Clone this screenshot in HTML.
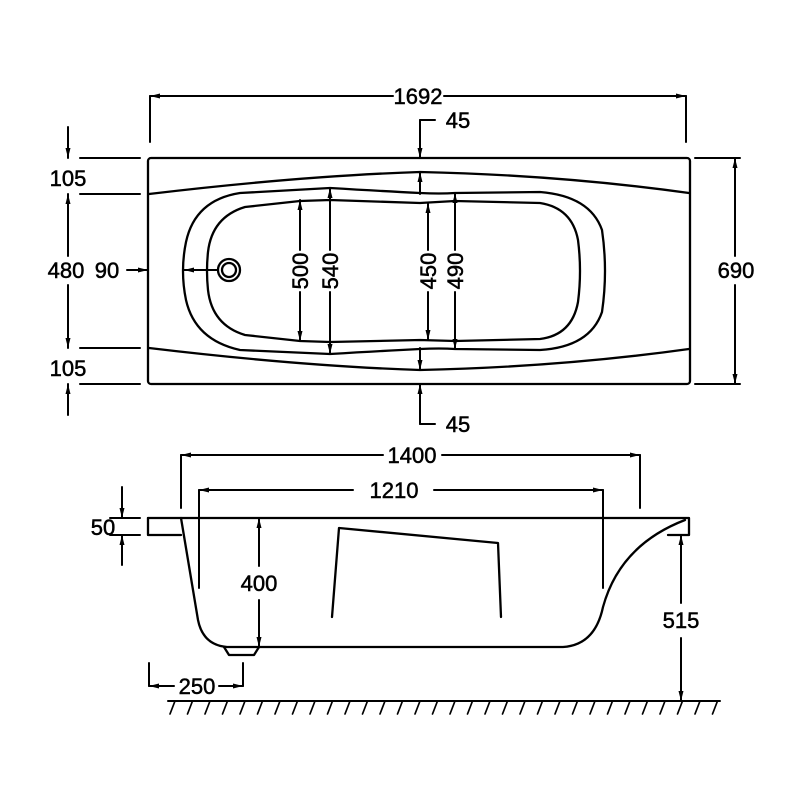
<!DOCTYPE html>
<html><head><style>html,body{margin:0;padding:0;background:#fff}svg{display:block}</style></head>
<body>
<svg width="800" height="800" viewBox="0 0 800 800" xmlns="http://www.w3.org/2000/svg">
<defs>
<marker id="a" viewBox="0 0 10 6" refX="10" refY="3" markerWidth="11" markerHeight="6" markerUnits="userSpaceOnUse" orient="auto-start-reverse"><path d="M0,0.5 L10,3 L0,5.5 Z" fill="#000"/></marker>
</defs>
<g fill="none" stroke="#000" stroke-width="2.3" stroke-linecap="round" stroke-linejoin="round">
<!-- TOP VIEW -->
<rect x="148" y="158" width="542" height="226" rx="3"/>
<path d="M149,194 Q300,176 420,172 Q560,175 689,193"/>
<path d="M149,348 Q300,366 420,370 Q560,367 689,349"/>
<path d="M330,188 Q380,191 420,193 Q440,194 455,193 L540,192 Q590,196 602,230 Q608,271 602,312 Q590,347 540,350 L455,349 Q440,348 420,349 Q380,351 330,354 L240,350 Q195,340 186,300 Q180,271 186,242 Q195,200 240,193 Z"/>
<path d="M330,200 L420,203 L455,201 L540,203 Q572,208 578,240 Q582,271 578,302 Q572,335 540,339 L455,341 L420,340 L330,342 L300,341 L245,335 Q212,325 208,290 Q206,271 208,252 Q212,217 245,207 L300,201 Z"/>
<circle cx="229" cy="270" r="11"/>
<circle cx="229" cy="270" r="7"/>
<g stroke-width="2">
<line x1="150" y1="96" x2="150" y2="142"/><line x1="686" y1="96" x2="686" y2="142"/>
<line x1="150" y1="96" x2="393" y2="96" marker-start="url(#a)"/><line x1="444" y1="96" x2="686" y2="96" marker-end="url(#a)"/>
<line x1="435" y1="120" x2="420" y2="120"/><line x1="420" y1="120" x2="420" y2="158" marker-end="url(#a)"/>
<line x1="435" y1="424" x2="420" y2="424"/><line x1="420" y1="424" x2="420" y2="384" marker-end="url(#a)"/>
<line x1="420" y1="194" x2="420" y2="172" marker-end="url(#a)"/>
<line x1="420" y1="348" x2="420" y2="370" marker-end="url(#a)"/>
<line x1="695" y1="158" x2="740" y2="158"/><line x1="695" y1="384" x2="740" y2="384"/>
<line x1="735" y1="256" x2="735" y2="158" marker-end="url(#a)"/><line x1="735" y1="285" x2="735" y2="384" marker-end="url(#a)"/>
<line x1="80" y1="158" x2="140" y2="158"/><line x1="80" y1="194" x2="140" y2="194"/>
<line x1="80" y1="348" x2="140" y2="348"/><line x1="80" y1="384" x2="140" y2="384"/>
<line x1="68" y1="127" x2="68" y2="158" marker-end="url(#a)"/>
<line x1="68" y1="415" x2="68" y2="384" marker-end="url(#a)"/>
<line x1="68" y1="256" x2="68" y2="194" marker-end="url(#a)"/><line x1="68" y1="285" x2="68" y2="348" marker-end="url(#a)"/>
<line x1="127" y1="270" x2="148" y2="270" marker-end="url(#a)"/>
<line x1="217" y1="270" x2="184" y2="270" marker-end="url(#a)"/>
<line x1="300" y1="250" x2="300" y2="200" marker-end="url(#a)"/><line x1="300" y1="292" x2="300" y2="341" marker-end="url(#a)"/>
<line x1="330" y1="250" x2="330" y2="188" marker-end="url(#a)"/><line x1="330" y1="292" x2="330" y2="354" marker-end="url(#a)"/>
<line x1="428" y1="250" x2="428" y2="203" marker-end="url(#a)"/><line x1="428" y1="292" x2="428" y2="340" marker-end="url(#a)"/>
<line x1="455" y1="250" x2="455" y2="193" marker-end="url(#a)"/><line x1="455" y1="292" x2="455" y2="349" marker-end="url(#a)"/>
</g>
<!-- SIDE VIEW -->
<path d="M148,518 L689,518 L689,535 L668,535"/>
<path d="M148,518 L148,535 L181,535"/>
<path d="M181,518 L198,620 Q203,645 227,647 L563,647 Q595,645 603,607 Q620,545 685,520"/>
<path d="M224,647 L229,655 L254,655 L259,647"/>
<path d="M332,617 L339,528 L498,543 L501,617"/>
<g stroke-width="2">
<line x1="181" y1="455" x2="181" y2="508"/><line x1="640" y1="455" x2="640" y2="508"/>
<line x1="181" y1="455" x2="383" y2="455" marker-start="url(#a)"/><line x1="442" y1="455" x2="640" y2="455" marker-end="url(#a)"/>
<line x1="199" y1="490" x2="199" y2="588"/><line x1="603" y1="490" x2="603" y2="588"/>
<line x1="199" y1="490" x2="353" y2="490" marker-start="url(#a)"/><line x1="434" y1="490" x2="603" y2="490" marker-end="url(#a)"/>
<line x1="259" y1="566" x2="259" y2="518" marker-end="url(#a)"/><line x1="259" y1="600" x2="259" y2="647" marker-end="url(#a)"/>
<line x1="681" y1="603" x2="681" y2="535" marker-end="url(#a)"/><line x1="681" y1="638" x2="681" y2="701" marker-end="url(#a)"/>
<line x1="110" y1="518" x2="140" y2="518"/><line x1="110" y1="535" x2="140" y2="535"/>
<line x1="122" y1="487" x2="122" y2="518" marker-end="url(#a)"/>
<line x1="122" y1="565" x2="122" y2="535" marker-end="url(#a)"/>
<line x1="149" y1="663" x2="149" y2="686"/><line x1="243" y1="663" x2="243" y2="686"/>
<line x1="149" y1="686" x2="174" y2="686" marker-start="url(#a)"/><line x1="219" y1="686" x2="243" y2="686" marker-end="url(#a)"/>
<line x1="168" y1="701" x2="720" y2="701"/>
</g>
<g stroke-width="1.7">
<path d="M175,701 l-5,13 M192.5,701 l-5,13 M210,701 l-5,13 M227.5,701 l-5,13 M245,701 l-5,13 M262.5,701 l-5,13 M280,701 l-5,13 M297.5,701 l-5,13 M315,701 l-5,13 M332.5,701 l-5,13 M350,701 l-5,13 M367.5,701 l-5,13 M385,701 l-5,13 M402.5,701 l-5,13 M420,701 l-5,13 M437.5,701 l-5,13 M455,701 l-5,13 M472.5,701 l-5,13 M490,701 l-5,13 M507.5,701 l-5,13 M525,701 l-5,13 M542.5,701 l-5,13 M560,701 l-5,13 M577.5,701 l-5,13 M595,701 l-5,13 M612.5,701 l-5,13 M630,701 l-5,13 M647.5,701 l-5,13 M665,701 l-5,13 M682.5,701 l-5,13 M700,701 l-5,13 M717.5,701 l-5,13"/>
</g>
</g>
<g font-family="Liberation Sans, sans-serif" font-size="22" fill="#000" stroke="#000" stroke-width="0.5" text-anchor="middle">
<text x="418" y="104">1692</text>
<text x="458" y="128">45</text>
<text x="458" y="432">45</text>
<text x="736" y="278">690</text>
<text x="68" y="186">105</text>
<text x="68" y="376">105</text>
<text x="66" y="278">480</text>
<text x="107" y="278">90</text>
<text transform="translate(308,271) rotate(-90)">500</text>
<text transform="translate(338,271) rotate(-90)">540</text>
<text transform="translate(436,271) rotate(-90)">450</text>
<text transform="translate(463,271) rotate(-90)">490</text>
<text x="412" y="463">1400</text>
<text x="394" y="498">1210</text>
<text x="259" y="591">400</text>
<text x="681" y="628">515</text>
<text x="103" y="535">50</text>
<text x="197" y="694">250</text>
</g>
</svg>
</body></html>
